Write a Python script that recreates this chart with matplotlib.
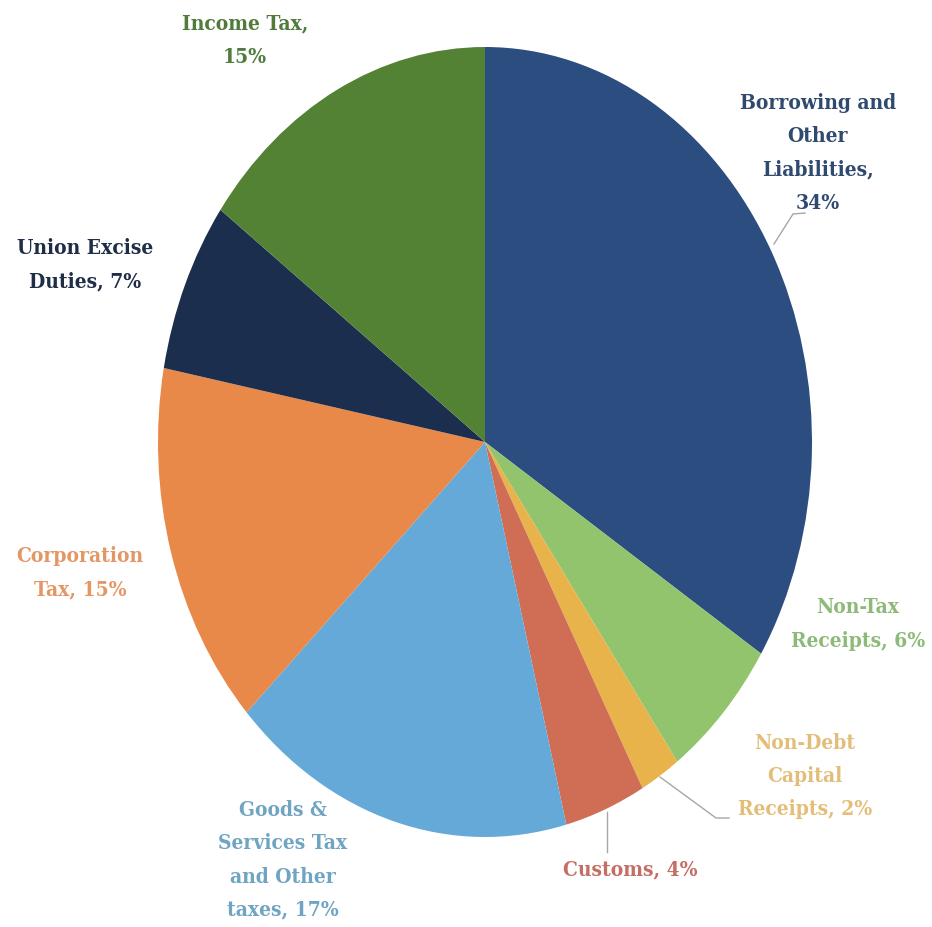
import matplotlib
matplotlib.use("Agg")
import matplotlib.pyplot as plt

# Receipts composition (share of total, %)
categories = [
    "Borrowing and\nOther\nLiabilities,\n34%",
    "Non-Tax\nReceipts, 6%",
    "Non-Debt\nCapital\nReceipts, 2%",
    "Customs, 4%",
    "Goods &\nServices Tax\nand Other\ntaxes, 17%",
    "Corporation\nTax, 15%",
    "Union Excise\nDuties, 7%",
    "Income Tax,\n15%",
]
shares = [34, 6, 2, 4, 17, 15, 7, 15]

slice_colors = ["#2C4D7F", "#92C46D", "#E9B34C", "#CF6E55",
                "#65A9D9", "#E8894A", "#1B2E4D", "#548235"]
label_colors = ["#2F4A6E", "#8DBA78", "#E2BE78", "#C46F66",
                "#6FA4C2", "#E29765", "#1F2D47", "#4F7B3B"]

W, H = 932, 927
fig = plt.figure(figsize=(W / 100, H / 100), dpi=100)
fig.patch.set_facecolor("white")

# Axes spans the full figure; the pie is stretched into an ellipse
cx, cy, rx, ry = 485, 442, 327, 395
ax = fig.add_axes([0, 0, 1, 1])
ax.pie(shares, colors=slice_colors, startangle=90, counterclock=False,
       wedgeprops=dict(linewidth=0))
ax.set_aspect("auto")
ax.set_xlim(-cx / rx, (W - cx) / rx)
ax.set_ylim((cy - H) / ry, cy / ry)
ax.axis("off")

def fx(px):
    return px / W

def fy(py):
    return 1 - py / H

# Label anchor positions (pixel centres)
label_pos = [
    (818, 153), (858, 624), (805, 776), (630, 869),
    (283, 860), (80, 573), (85, 265), (245, 40),
]
for text, col, (px, py) in zip(categories, label_colors, label_pos):
    fig.text(fx(px), fy(py), text, ha="center", va="center",
             color=col, fontsize=15, fontweight="bold",
             family="DejaVu Serif", fontstretch="condensed",
             linespacing=1.82)

# Leader lines
lead = "#A6A6A6"
fig.add_artist(plt.Line2D([fx(774), fx(793), fx(805)],
                          [fy(244), fy(214), fy(213)], color=lead, lw=1))
fig.add_artist(plt.Line2D([fx(660), fx(716), fx(729)],
                          [fy(777), fy(818), fy(818)], color=lead, lw=1))
fig.add_artist(plt.Line2D([fx(607), fx(607)],
                          [fy(812), fy(852)], color=lead, lw=1))

fig.savefig("out.png", dpi=100, facecolor="white")
